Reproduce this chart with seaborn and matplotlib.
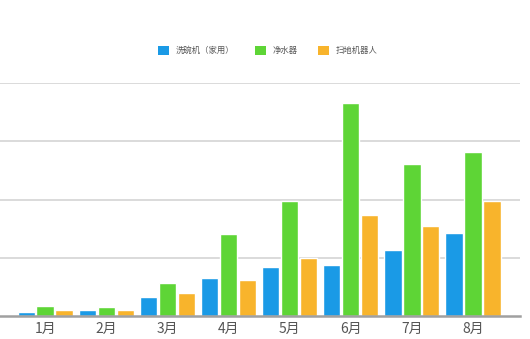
import matplotlib
matplotlib.use("Agg")
import matplotlib.pyplot as plt
import seaborn as sns
import pandas as pd
from matplotlib.patches import Patch

months = ["1月", "2月", "3月", "4月", "5月", "6月", "7月", "8月"]
series_names = ["洗碗机（家用）", "净水器", "扫地机器人"]
dishwasher = [6, 11, 32, 65, 84, 88, 114, 142]
water_purifier = [17, 15, 56, 141, 197, 365, 261, 282]
robot_vacuum = [11, 11, 39, 61, 100, 174, 155, 197]
colors = ["#1a9ae6", "#5ed536", "#f8b42c"]

df = pd.DataFrame({
    "month": months * 3,
    "series": [series_names[0]] * 8 + [series_names[1]] * 8 + [series_names[2]] * 8,
    "value": dishwasher + water_purifier + robot_vacuum,
})

sns.set_theme(style="white")
plt.rcParams["font.family"] = ["Noto Sans CJK SC", "DejaVu Sans"]

fig = plt.figure(figsize=(5.3, 3.39), dpi=100)
ax = fig.add_axes([0.0, 0.068, 0.981, 0.687])

sns.barplot(data=df, x="month", y="value", hue="series", hue_order=series_names,
            palette=colors, width=0.93, gap=0.08, saturation=1, ax=ax,
            legend=False, errorbar=None, zorder=3)

ax.set_xlim(-0.74, 7.77)
ax.set_ylim(0, 400)
ax.set_yticks([100, 200, 300, 400])
ax.yaxis.grid(True, color="#d4d4d4", linewidth=1.2, zorder=0)
ax.set_yticklabels([])
ax.tick_params(axis="y", length=0)
ax.tick_params(axis="x", length=0, labelsize=10, labelcolor="#555555", pad=4)
ax.set_xlabel("")
ax.set_ylabel("")
for s in ["top", "right", "left"]:
    ax.spines[s].set_visible(False)
ax.spines["bottom"].set_color("#a0a0a0")
ax.spines["bottom"].set_linewidth(1.8)
ax.spines["bottom"].set_zorder(4)

handles = [Patch(facecolor=c, edgecolor="none") for c in colors]
fig.legend(handles, series_names, loc="center", bbox_to_anchor=(0.505, 0.852),
           ncol=3, frameon=False, fontsize=6, labelcolor="#555555",
           handlelength=1.3, handleheight=1.3, columnspacing=2.5, handletextpad=0.8)

fig.savefig("out.png", dpi=100, facecolor="white")
